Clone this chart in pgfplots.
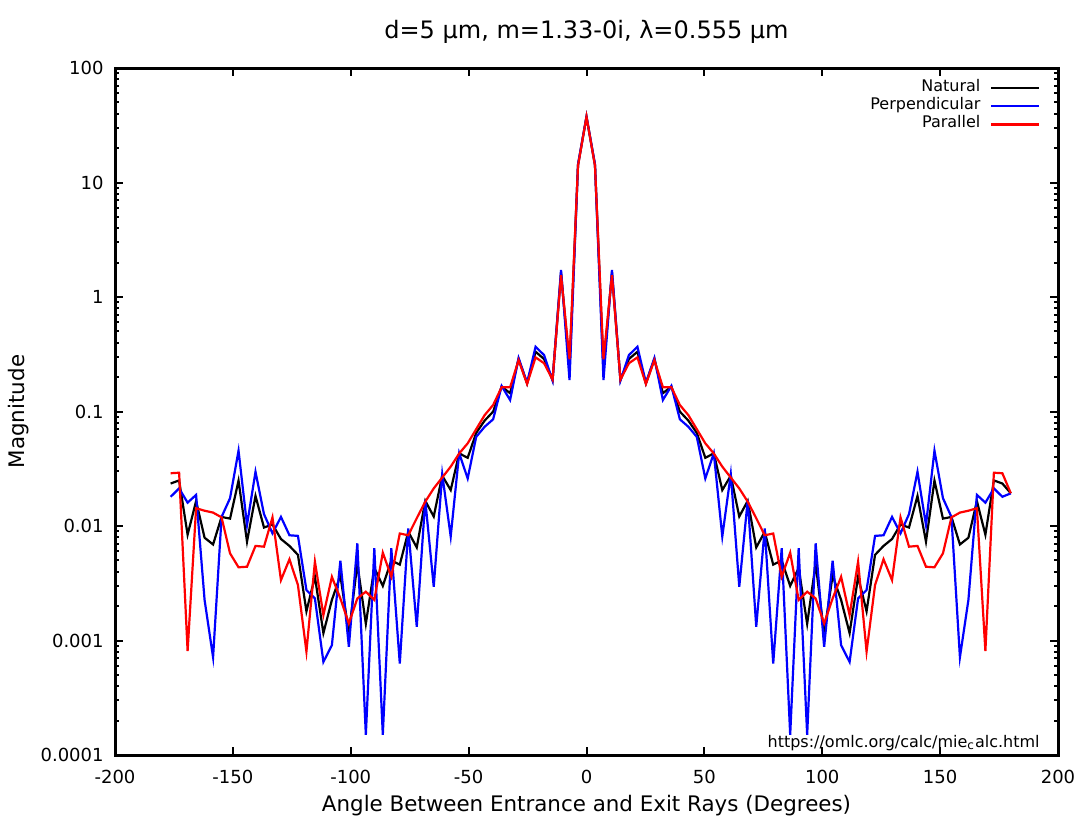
\documentclass[border=0pt]{standalone}
\usepackage{fontspec}
\setmainfont{DejaVu Sans}
\usepackage{pgfplots}
\usepackage{pgfplotstable}
\pgfplotsset{compat=1.18}

% angle, natural, perpendicular, parallel
\pgfplotstableread{
a n s p
-176.4 0.0235 0.018 0.0289
-172.8 0.025 0.0213 0.0292
-169.2 0.0084 0.016 0.00081
-165.6 0.0165 0.0187 0.0143
-162.0 0.0079 0.00226 0.0136
-158.4 0.0069 0.000714 0.0131
-154.8 0.012 0.012 0.0119
-151.2 0.0116 0.0175 0.00577
-147.6 0.0249 0.0455 0.00436
-144.0 0.0073 0.0102 0.00441
-140.4 0.0183 0.0298 0.0067
-136.8 0.0097 0.0127 0.0066
-133.2 0.0103 0.00863 0.0119
-129.6 0.0077 0.012 0.00337
-126.0 0.0067 0.0083 0.00512
-122.4 0.0056 0.0082 0.00305
-118.8 0.0018 0.00276 0.0008
-115.2 0.0036 0.00233 0.00488
-111.6 0.00116 0.00065 0.00167
-108.0 0.00226 0.00091 0.0036
-104.4 0.0037 0.00498 0.00233
-100.8 0.00115 0.00088 0.00141
-97.2 0.0047 0.00706 0.00233
-93.6 0.0014 0.00015 0.00267
-90.0 0.0043 0.0064 0.00226
-86.4 0.0030 0.00015 0.00585
-82.8 0.0050 0.0064 0.0036
-79.2 0.0046 0.00063 0.0086
-75.6 0.0089 0.0095 0.0083
-72.0 0.0065 0.00132 0.0117
-68.4 0.0166 0.0169 0.0163
-64.8 0.0121 0.00295 0.0213
-61.2 0.0275 0.0284 0.0265
-57.6 0.0206 0.0081 0.033
-54.0 0.0431 0.0432 0.043
-50.4 0.0394 0.026 0.0527
-46.8 0.065 0.060 0.070
-43.2 0.0833 0.0736 0.093
-39.6 0.0998 0.0855 0.114
-36.0 0.165 0.167 0.163
-32.4 0.1445 0.126 0.163
-28.8 0.287 0.293 0.281
-25.2 0.176 0.178 0.174
-21.6 0.3325 0.368 0.297
-18.0 0.2875 0.311 0.264
-14.4 0.188 0.186 0.19
-10.8 1.635 1.72 1.55
-7.2 0.237 0.188 0.286
-3.6 14.2 14.4 14.0
0.0 37.5 37.5 37.5
3.6 14.2 14.4 14.0
7.2 0.237 0.188 0.286
10.8 1.635 1.72 1.55
14.4 0.188 0.186 0.19
18.0 0.2875 0.311 0.264
21.6 0.3325 0.368 0.297
25.2 0.176 0.178 0.174
28.8 0.287 0.293 0.281
32.4 0.1445 0.126 0.163
36.0 0.165 0.167 0.163
39.6 0.0998 0.0855 0.114
43.2 0.0833 0.0736 0.093
46.8 0.065 0.060 0.070
50.4 0.0394 0.026 0.0527
54.0 0.0431 0.0432 0.043
57.6 0.0206 0.0081 0.033
61.2 0.0275 0.0284 0.0265
64.8 0.0121 0.00295 0.0213
68.4 0.0166 0.0169 0.0163
72.0 0.0065 0.00132 0.0117
75.6 0.0089 0.0095 0.0083
79.2 0.0046 0.00063 0.0086
82.8 0.0050 0.0064 0.0036
86.4 0.0030 0.00015 0.00585
90.0 0.0043 0.0064 0.00226
93.6 0.0014 0.00015 0.00267
97.2 0.0047 0.00706 0.00233
100.8 0.00115 0.00088 0.00141
104.4 0.0037 0.00498 0.00233
108.0 0.00226 0.00091 0.0036
111.6 0.00116 0.00065 0.00167
115.2 0.0036 0.00233 0.00488
118.8 0.0018 0.00276 0.0008
122.4 0.0056 0.0082 0.00305
126.0 0.0067 0.0083 0.00512
129.6 0.0077 0.012 0.00337
133.2 0.0103 0.00863 0.0119
136.8 0.0097 0.0127 0.0066
140.4 0.0183 0.0298 0.0067
144.0 0.0073 0.0102 0.00441
147.6 0.0249 0.0455 0.00436
151.2 0.0116 0.0175 0.00577
154.8 0.012 0.012 0.0119
158.4 0.0069 0.000714 0.0131
162.0 0.0079 0.00226 0.0136
165.6 0.0165 0.0187 0.0143
169.2 0.0084 0.016 0.00081
172.8 0.025 0.0213 0.0292
176.4 0.0235 0.018 0.0289
180.0 0.0193 0.0193 0.0193
}\miedata

\begin{document}
\begin{tikzpicture}
\useasboundingbox (0,0) rectangle (544pt,408pt);
\begin{axis}[
    at={(57.5pt,30.5pt)}, anchor=south west,
    scale only axis,
    width=471.5pt, height=343.5pt,
    ymode=log,
    xmin=-200, xmax=200,
    ymin=1e-4, ymax=100,
    xtick={-200,-150,...,200},
    ytick={1e-4,1e-3,1e-2,1e-1,1,10,100},
    yticklabels={0.0001,0.001,0.01,0.1,1,10,100},
    minor ytick={2e-4,3e-4,4e-4,5e-4,6e-4,7e-4,8e-4,9e-4,
                 2e-3,3e-3,4e-3,5e-3,6e-3,7e-3,8e-3,9e-3,
                 2e-2,3e-2,4e-2,5e-2,6e-2,7e-2,8e-2,9e-2,
                 0.2,0.3,0.4,0.5,0.6,0.7,0.8,0.9,
                 2,3,4,5,6,7,8,9,20,30,40,50,60,70,80,90},
    /pgf/number format/assume math mode=true,
    tick align=inside,
    major tick length=4pt, minor tick length=2pt,
    every tick/.style={line width=1pt, black},
    axis line style={line width=1.5pt},
    tick label style={font=\fontsize{9}{10}\selectfont},
    xticklabel style={anchor=base, yshift=-14pt, inner sep=0pt},
    yticklabel style={anchor=east, xshift=-5.5pt, inner sep=0pt},
    xlabel={Angle Between Entrance and Exit Rays (Degrees)},
    ylabel={Magnitude},
    label style={font=\fontsize{10.7}{12}\selectfont},
    xlabel style={at={(axis description cs:0.5,0)}, anchor=base, yshift=-28pt},
    ylabel style={at={([xshift=-45pt]axis description cs:0,0.5)}, anchor=base},
    legend style={draw=none, fill=none, at={(1,1)}, anchor=north east,
        xshift=-8.5pt, yshift=-5pt, inner sep=0pt, row sep=0pt, column sep=5pt,
        font=\fontsize{8}{9}\selectfont,
        nodes={inner sep=0pt, text height=6.3pt, text depth=2.9pt}},
    legend cell align=right,
    legend plot pos=right,
    legend image code/.code={\draw[#1] (0pt,0pt) -- (24pt,0pt);},
    clip mode=individual,
]
\addplot[black, line width=1.1pt] table[x=a, y=n] {\miedata};
\addplot[blue, line width=1.1pt] table[x=a, y=s] {\miedata};
\addplot[red, line width=1.1pt] table[x=a, y=p] {\miedata};
\legend{Natural,Perpendicular,Parallel}
\node[anchor=base east, font=\fontsize{8}{9}\selectfont, inner sep=0pt]
    at (axis description cs:1,0) [xshift=-9pt, yshift=4pt]
    {https://omlc.org/calc/mie\textsubscript{c}alc.html};
\node[anchor=base, font=\fontsize{12}{14}\selectfont, inner sep=0pt]
    at (axis description cs:0.5,1) [yshift=15pt]
    {d=5 µm, m=1.33-0i, λ=0.555 µm};
\end{axis}
\end{tikzpicture}
\end{document}
